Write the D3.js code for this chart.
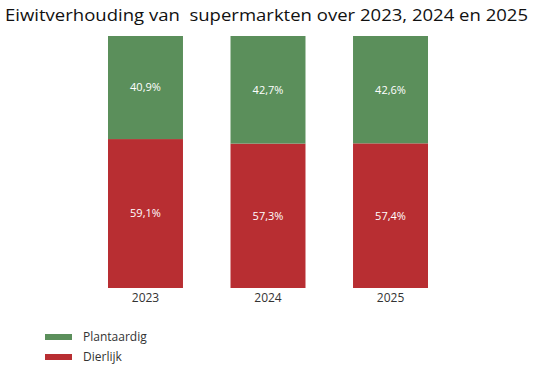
<!DOCTYPE html>
<html>
<head>
<meta charset="utf-8">
<script src="https://cdn.jsdelivr.net/npm/d3@7"></script>
<style>
  body { margin: 0; background: #fff; }
  svg { display: block; font-family: "Open Sans", "Lato", sans-serif; }
</style>
</head>
<body>
<svg id="chart"></svg>
<script>
const years = ["2023", "2024", "2025"];
const dierlijk = [59.1, 57.3, 57.4];
const plantaardig = [40.9, 42.7, 42.6];
const seriesNames = ["Plantaardig", "Dierlijk"];

const colors = { Plantaardig: "#5b8f5b", Dierlijk: "#b82e32" };

const width = 534, height = 370;
const margin = { top: 36, right: 81.5, bottom: 82, left: 83.5 };
const innerW = width - margin.left - margin.right;
const innerH = height - margin.top - margin.bottom;

const svg = d3.select("#chart").attr("width", width).attr("height", height);

// title
svg.append("text")
  .attr("x", 5)
  .attr("y", 21)
  .attr("font-size", 17)
  .attr("fill", "#111")
  .style("white-space", "pre")
  .attr("textLength", 523)
  .attr("lengthAdjust", "spacingAndGlyphs")
  .text("Eiwitverhouding van  supermarkten over 2023, 2024 en 2025");

const g = svg.append("g").attr("transform", `translate(${margin.left},${margin.top})`);

const x = d3.scaleBand().domain(years).range([0, innerW]).paddingInner(0.388).paddingOuter(0.2);
const y = d3.scaleLinear().domain([0, 100]).range([innerH, 0]);

const rows = years.map((yr, i) => ({ year: yr, Dierlijk: dierlijk[i], Plantaardig: plantaardig[i] }));
const stack = d3.stack().keys(["Dierlijk", "Plantaardig"]);
const layers = stack(rows);

const fmt = v => d3.format(".1f")(v).replace(".", ",") + "%";

layers.forEach(layer => {
  const grp = g.append("g");
  grp.selectAll("rect")
    .data(layer)
    .join("rect")
    .attr("x", d => x(d.data.year))
    .attr("y", d => y(d[1]))
    .attr("width", x.bandwidth())
    .attr("height", d => y(d[0]) - y(d[1]))
    .attr("fill", colors[layer.key]);

  grp.selectAll("text")
    .data(layer)
    .join("text")
    .attr("x", d => x(d.data.year) + x.bandwidth() / 2)
    .attr("y", d => (y(d[0]) + y(d[1])) / 2)
    .attr("dy", "0.35em")
    .attr("text-anchor", "middle")
    .attr("font-size", 11)
    .attr("fill", "#fff")
    .text(d => fmt(d.data[layer.key]));
});

// x axis
const xAxis = g.append("g")
  .attr("transform", `translate(0,${innerH})`)
  .call(d3.axisBottom(x).tickSize(0).tickPadding(5));
xAxis.select(".domain").remove();
xAxis.selectAll("text").attr("font-size", 12).attr("fill", "#333").attr("font-family", "Open Sans, sans-serif");

// legend
const legend = svg.append("g").attr("transform", "translate(45,334)");
seriesNames.forEach((name, i) => {
  const row = legend.append("g").attr("transform", `translate(0,${i * 20})`);
  row.append("rect").attr("width", 27).attr("height", 6).attr("fill", colors[name]);
  row.append("text")
    .attr("x", 38)
    .attr("y", 3)
    .attr("dy", "0.35em")
    .attr("font-size", 12)
    .attr("fill", "#333")
    .text(name);
});
</script>
</body>
</html>
